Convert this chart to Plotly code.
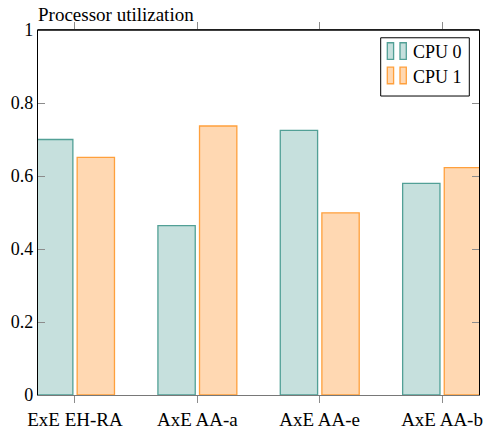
import plotly.graph_objects as go

categories = ["ExE EH-RA", "AxE AA-a", "AxE AA-e", "AxE AA-b"]
cpu0 = [0.700, 0.464, 0.725, 0.580]
cpu1 = [0.651, 0.737, 0.499, 0.623]
series_names = ["CPU 0", "CPU 1"]
y_ticks = [0, 0.2, 0.4, 0.6, 0.8, 1]
y_ticktext = ["0", "0.2", "0.4", "0.6", "0.8", "1"]

xpos = list(range(len(categories)))
FONT = "Liberation Serif"
FILLS = ["rgb(198,224,221)", "rgb(255,216,178)"]
LINES = ["rgb(82,160,150)", "rgb(255,160,60)"]

W, H = 485, 432
ML, MR, MT, MB = 38, 6, 29.5, 36.5
PW, PH = W - ML - MR, H - MT - MB


def px(xp):
    return (xp - ML) / PW


def py(yp):
    return (H - MB - yp) / PH


fig = go.Figure()
fig.add_trace(go.Bar(
    x=xpos, y=cpu0, name=series_names[0], width=0.305, offset=-0.322, showlegend=False,
    marker=dict(color=FILLS[0], line=dict(color=LINES[0], width=1.3)),
))
fig.add_trace(go.Bar(
    x=xpos, y=cpu1, name=series_names[1], width=0.305, offset=0.018, showlegend=False,
    marker=dict(color=FILLS[1], line=dict(color=LINES[1], width=1.3)),
))

shapes = [dict(type="line", xref="paper", yref="paper", x0=0, x1=1, y0=1, y1=1,
               line=dict(color="black", width=1.3))]
annotations = [dict(text="Processor utilization", xref="paper", yref="paper",
                    x=-0.005, y=1, xanchor="left", yanchor="bottom", yshift=3,
                    showarrow=False, font=dict(family=FONT, size=19))]

# custom legend (pgfplots-style ybar legend with two small bars)
shapes.append(dict(type="rect", xref="paper", yref="paper",
                   x0=px(380.7), x1=px(469.3), y0=py(95.7), y1=py(37.3),
                   line=dict(color="black", width=1), fillcolor="white", layer="above"))
row_tops = [42.3, 66.7]
for i, name in enumerate(series_names):
    top = row_tops[i]
    for xl in (387.3, 400.0):
        shapes.append(dict(type="rect", xref="paper", yref="paper",
                           x0=px(xl), x1=px(xl + 6.3), y0=py(top + 16.7), y1=py(top),
                           line=dict(color=LINES[i], width=1.3), fillcolor=FILLS[i],
                           layer="above"))
    annotations.append(dict(text=name, xref="paper", yref="paper",
                            x=px(410.5), y=py(top + 9.5), xanchor="left", yanchor="middle",
                            showarrow=False, font=dict(family=FONT, size=18)))

fig.update_layout(
    width=W, height=H,
    margin=dict(l=ML, r=MR, t=MT, b=MB, autoexpand=False),
    paper_bgcolor="white", plot_bgcolor="white",
    font=dict(family=FONT, size=18, color="black"),
    showlegend=False,
    xaxis=dict(
        range=[-0.302, 3.302], tickmode="array", tickvals=xpos, ticktext=categories,
        ticks="outside", ticklen=7, tickcolor="rgb(140,140,140)", tickwidth=1,
        showline=True, linecolor="rgb(120,120,120)", linewidth=1.3, mirror="allticks",
        showgrid=False, zeroline=False, tickfont=dict(family=FONT, size=19),
        automargin=False,
    ),
    yaxis=dict(
        range=[0, 1], tickmode="array", tickvals=y_ticks, ticktext=y_ticktext,
        ticks="inside", ticklen=7, tickcolor="rgb(140,140,140)", tickwidth=1,
        showline=True, linecolor="black", linewidth=1.3, mirror="ticks",
        showgrid=False, zeroline=False, tickfont=dict(family=FONT, size=18),
        automargin=False,
    ),
    shapes=shapes,
    annotations=annotations,
)

fig.write_html("out.html")
